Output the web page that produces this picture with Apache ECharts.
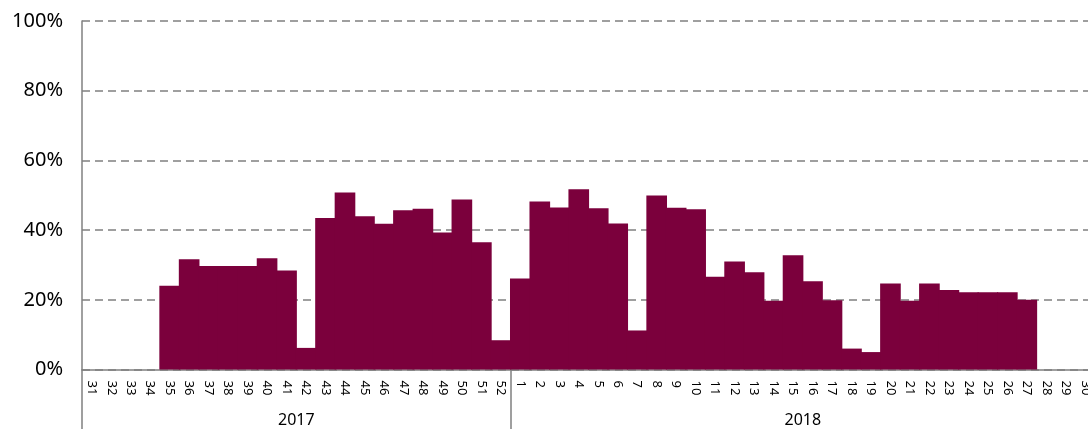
<!DOCTYPE html>
<html>
<head>
<meta charset="utf-8">
<script src="https://cdn.jsdelivr.net/npm/echarts@6/dist/echarts.min.js"></script>
<style>html,body{margin:0;padding:0;background:#fff;}#c{width:1088px;height:429px;}</style>
</head>
<body>
<div id="c"></div>
<script>
const weeks2017 = ['31','32','33','34','35','36','37','38','39','40','41','42','43','44','45','46','47','48','49','50','51','52'];
const weeks2018 = ['1','2','3','4','5','6','7','8','9','10','11','12','13','14','15','16','17','18','19','20','21','22','23','24','25','26','27','28','29','30'];
const values2017 = [null,null,null,null,24.0,31.6,29.7,29.7,29.7,31.9,28.4,6.2,43.5,50.8,44.0,41.8,45.7,46.1,39.3,48.8,36.5,8.4];
const values2018 = [26.1,48.2,46.5,51.7,46.3,41.9,11.2,49.9,46.4,46.0,26.6,31.0,27.9,19.7,32.8,25.3,19.9,6.0,5.0,24.7,19.7,24.7,22.8,22.2,22.2,22.2,20.0,null,null,null];
const yearLabels = ['2017','2018'];
const yTicks = [0,20,40,60,80,100];

const categories = weeks2017.concat(weeks2018);
const values = values2017.concat(values2018);
const n = categories.length;
const b = weeks2017.length;
const yearCenters = [b/2, b + weeks2018.length/2];

const chart = echarts.init(document.getElementById('c'), null, {renderer:'canvas'});
const grey = '#808080';
const font = 'Noto Sans';
const barColor = '#7b003c';
chart.setOption({
  animation:false,
  grid:{left:82, width:1013, top:21, height:348.5, containLabel:false, outerBoundsMode:'none'},
  xAxis:[{
    type:'category', data:categories, position:'bottom',
    axisLine:{show:true, lineStyle:{color:grey, width:1.5}},
    axisTick:{show:false},
    axisLabel:{interval:0, rotate:-90, margin:11, fontSize:13, color:'#000', fontFamily:font},
    splitLine:{show:false}
  },{
    type:'value', min:0, max:n, position:'bottom',
    axisLine:{show:false},
    axisTick:{show:true, length:60, customValues:[0,b,n], lineStyle:{color:grey, width:1.5}},
    axisLabel:{show:true, customValues:yearCenters, margin:43, fontSize:16, color:'#000', fontFamily:font,
      formatter:function(v){return v===yearCenters[0]?yearLabels[0]:yearLabels[1];}},
    splitLine:{show:false}
  }],
  yAxis:{
    type:'value', min:yTicks[0], max:yTicks[yTicks.length-1], interval:20,
    axisLine:{show:true, lineStyle:{color:grey, width:1.5}},
    axisTick:{show:false},
    axisLabel:{formatter:'{value}%', fontSize:20, color:'#000', margin:19, fontFamily:font},
    splitLine:{show:true, lineStyle:{color:grey, width:1.6, type:[8,5]}}
  },
  series:[{
    type:'bar', xAxisIndex:0, data:values, barWidth:'106%',
    itemStyle:{color:barColor, borderWidth:0}
  }]
});
</script>
</body>
</html>
